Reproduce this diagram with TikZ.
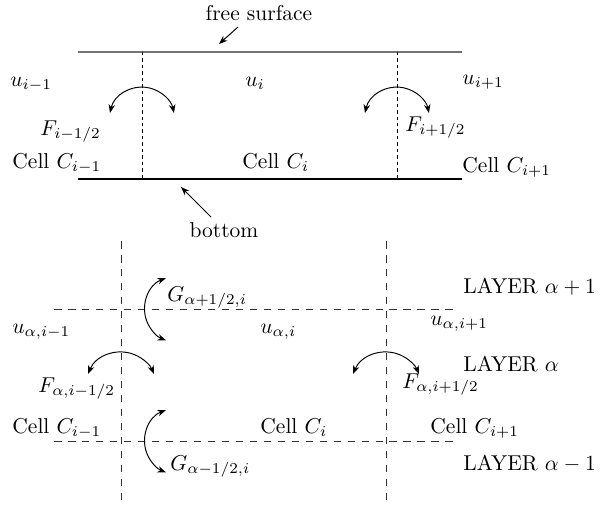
\documentclass[tikz,border=0pt]{standalone}
\usetikzlibrary{arrows.meta}
\begin{document}
\begin{tikzpicture}[x=0.465pt,y=0.465pt,
  lbl/.style={inner sep=0pt,anchor=base west},
  surf/.style={line width=1pt,black!55},
  bot/.style={line width=1.1pt,black},
  fine/.style={line width=0.45pt,dash pattern=on 1.6pt off 1.4pt},
  grid/.style={line width=0.4pt,dash pattern=on 3.5pt off 3pt,black!80},
  flux/.style={line width=0.45pt,{Stealth[length=4pt,width=3pt]}-{Stealth[length=4pt,width=3pt]}},
  ptr/.style={line width=0.45pt,-{Stealth[length=4pt,width=3pt]}}]
\useasboundingbox (0,0) rectangle (602,-505);
% ---- top picture ----
\coordinate (s1) at (78,-52); \coordinate (s2) at (462,-52);
\coordinate (b1) at (78,-179); \coordinate (b2) at (462,-179);
\draw[surf] (s1) -- (s2);
\draw[bot] (b1) -- (b2);
\coordinate (v1t) at (142,-52); \coordinate (v1b) at (142,-179);
\coordinate (v2t) at (397,-52); \coordinate (v2b) at (397,-179);
\draw[fine] (v1t) -- (v1b);
\draw[fine] (v2t) -- (v2b);
\node[anchor=base,inner sep=0pt] (fs) at (259,-20) {free surface};
\coordinate (fsa) at (238,-27); \coordinate (fsb) at (219,-44);
\draw[ptr] (fsa) -- (fsb);
\node[anchor=base,inner sep=0pt] (bt) at (224,-237) {bottom};
\coordinate (bta) at (211,-217); \coordinate (btb) at (181,-187);
\draw[ptr] (bta) -- (btb);
\coordinate (a1) at (110,-113);
\draw[flux] (a1) arc[start angle=168, end angle=12, radius=32.7];
\coordinate (a3) at (365,-113);
\draw[flux] (a3) arc[start angle=168, end angle=12, radius=32.7];
\node[lbl] (um) at (10,-86) {$u_{i-1}$};
\node[lbl] (u0) at (245,-86) {$u_{i}$};
\node[lbl] (up) at (462,-84) {$u_{i+1}$};
\node[lbl] (fm) at (40,-135) {$F_{i-1/2}$};
\node[lbl] (fp) at (405,-131) {$F_{i+1/2}$};
\node[lbl] (cm) at (12,-168) {Cell $C_{i-1}$};
\node[lbl] (c0) at (242,-168) {Cell $C_{i}$};
\node[lbl] (cp) at (462,-172) {Cell $C_{i+1}$};
% ---- bottom picture ----
\coordinate (w1t) at (121,-241); \coordinate (w1b) at (121,-500);
\coordinate (w2t) at (386,-241); \coordinate (w2b) at (386,-500);
\coordinate (h1l) at (54,-309); \coordinate (h1r) at (455,-309);
\coordinate (h2l) at (54,-441); \coordinate (h2r) at (455,-441);
\draw[grid] (w1t) -- (w1b);
\draw[grid] (w2t) -- (w2b);
\draw[grid] (h1l) -- (h1r);
\draw[grid] (h2l) -- (h2r);
\coordinate (g1) at (166,-278);
\draw[flux] (g1) arc[start angle=111, end angle=249, radius=33.4];
\coordinate (g3) at (166,-410);
\draw[flux] (g3) arc[start angle=111, end angle=249, radius=33.4];
\coordinate (e1) at (88,-374);
\draw[flux] (e1) arc[start angle=157.5, end angle=22.5, radius=35.7];
\coordinate (e3) at (353,-374);
\draw[flux] (e3) arc[start angle=157.5, end angle=22.5, radius=35.7];
\node[lbl] (gp) at (167,-301) {$G_{\alpha+1/2,i}$};
\node[lbl] (uam) at (12,-333) {$u_{\alpha,i-1}$};
\node[lbl] (ua0) at (260,-333) {$u_{\alpha,i}$};
\node[lbl] (uap) at (430,-325) {$u_{\alpha,i+1}$};
\node[lbl] (fam) at (38,-392) {$F_{\alpha,i-1/2}$};
\node[lbl] (fap) at (402,-388) {$F_{\alpha,i+1/2}$};
\node[lbl] (cam) at (12,-433) {Cell $C_{i-1}$};
\node[lbl] (ca0) at (260,-433) {Cell $C_{i}$};
\node[lbl] (cap) at (430,-433) {Cell $C_{i+1}$};
\node[lbl] (gm) at (170,-470) {$G_{\alpha-1/2,i}$};
\node[lbl] (l1) at (463,-293) {LAYER $\alpha+1$};
\node[lbl] (l0) at (463,-371) {LAYER $\alpha$};
\node[lbl] (l2) at (463,-470) {LAYER $\alpha-1$};
\end{tikzpicture}
\end{document}
